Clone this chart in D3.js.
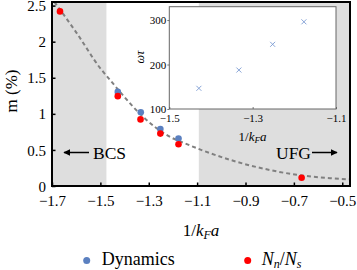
<!DOCTYPE html>
<html>
<head>
<meta charset="utf-8">
<script src="https://cdn.jsdelivr.net/npm/d3@7"></script>
<style>
  body { margin: 0; background: #fff; }
  svg { display: block; font-family: "Liberation Serif", serif; }
</style>
</head>
<body>
<div id="chart"></div>
<script>
// data
const shadeRanges = [[-1.7, -1.475], [-1.093, -0.468]];

const fitX = [-1.69, -1.6, -1.5, -1.46, -1.4, -1.33, -1.275, -1.206, -1.15, -1.075, -0.937, -0.8, -0.688, -0.55, -0.468];
const fitY = [2.55, 2.13, 1.63, 1.47, 1.23, 0.98, 0.82, 0.67, 0.59, 0.49, 0.336, 0.222, 0.155, 0.108, 0.092];

const ratioX = [-1.667, -1.428, -1.334, -1.252, -1.177, -0.668];
const ratioY = [2.42, 1.245, 0.923, 0.726, 0.578, 0.115];

const dynX = [-1.428, -1.333, -1.252, -1.177];
const dynY = [1.304, 1.023, 0.789, 0.657];

const insetX = [-1.429, -1.333, -1.252, -1.177];
const insetY = [146.5, 187.6, 245.4, 296];

const xTicks = [-1.7, -1.5, -1.3, -1.1, -0.9, -0.7, -0.5];
const yTicks = [0, 0.5, 1, 1.5, 2, 2.5];
const insetXTicks = [-1.5, -1.3, -1.1];
const insetYTicks = [100, 200, 300];

const blue = "#5b80c0";
const red = "#ff0000";

let W = 357, H = 270;
let svg = d3.select("#chart").append("svg").attr("width", W).attr("height", H);

// main scales
const x = d3.scaleLinear().domain([-1.7, -0.468]).range([52, 350]);
const y = d3.scaleLinear().domain([0, 2.55]).range([186, 2]);

// gray regions
svg.selectAll("rect.shade")
    .data(shadeRanges)
    .enter()
    .append("rect")
    .attr("class", "shade")
    .attr("x", d => x(d[0]))
    .attr("y", y(2.55))
    .attr("width", d => x(d[1]) - x(d[0]))
    .attr("height", y(0) - y(2.55))
    .attr("fill", "#dedede");

// dashed fit line
let fitData = fitX.map((v, i) => [v, fitY[i]]);
svg.append("path")
    .datum(fitData)
    .attr("d", d3.line().x(d => x(d[0])).y(d => y(d[1])).curve(d3.curveMonotoneX))
    .attr("fill", "none")
    .attr("stroke", "#808080")
    .attr("stroke-width", 2)
    .attr("stroke-dasharray", "4,3");

// points
svg.selectAll("circle.dyn")
    .data(dynX.map((v, i) => [v, dynY[i]]))
    .enter()
    .append("circle")
    .attr("cx", d => x(d[0]))
    .attr("cy", d => y(d[1]))
    .attr("r", 3.3)
    .attr("fill", blue);

svg.selectAll("circle.ratio")
    .data(ratioX.map((v, i) => [v, ratioY[i]]))
    .enter()
    .append("circle")
    .attr("cx", d => x(d[0]))
    .attr("cy", d => y(d[1]))
    .attr("r", 3.3)
    .attr("fill", red);

// axes
let xAxis = svg.append("g")
    .attr("transform", `translate(0, ${y(0)})`)
    .call(d3.axisBottom(x).tickValues(xTicks).tickSize(-3.5).tickPadding(9).tickFormat(d3.format(".1f")));
let yAxis = svg.append("g")
    .attr("transform", `translate(${x(-1.7)}, 0)`)
    .call(d3.axisLeft(y).tickValues(yTicks).tickSize(-3.5).tickPadding(6).tickFormat(d3.format("~g")));

for (let ax of [xAxis, yAxis]) {
    ax.select(".domain").remove();
    ax.selectAll(".tick line").attr("stroke", "#000").attr("stroke-width", 1.5);
    ax.selectAll(".tick text")
        .attr("font-family", "Liberation Serif")
        .attr("font-size", 15)
        .attr("fill", "#000");
}
yAxis.selectAll(".tick text").attr("dy", "0.34em");

// frame
svg.append("rect")
    .attr("x", x(-1.7)).attr("y", y(2.55))
    .attr("width", x(-0.468) - x(-1.7))
    .attr("height", y(0) - y(2.55))
    .attr("fill", "none")
    .attr("stroke", "#000")
    .attr("stroke-width", 2);

// labels
svg.append("text")
    .attr("transform", "translate(17, 91) rotate(-90)")
    .attr("text-anchor", "middle")
    .attr("font-size", 17)
    .text("m (%)");

let xl = svg.append("text")
    .attr("x", 201).attr("y", 236)
    .attr("text-anchor", "middle")
    .attr("font-size", 17);
xl.append("tspan").text("1/");
xl.append("tspan").attr("font-style", "italic").text("k");
xl.append("tspan").attr("font-style", "italic").attr("font-size", 12).attr("dy", 3).text("F");
xl.append("tspan").attr("font-style", "italic").attr("dy", -3).text("a");

// BCS / UFG arrows
svg.append("defs").append("marker")
    .attr("id", "head")
    .attr("viewBox", "0 0 10 10")
    .attr("refX", 9).attr("refY", 5)
    .attr("markerWidth", 7).attr("markerHeight", 7)
    .attr("markerUnits", "userSpaceOnUse")
    .attr("orient", "auto")
    .append("path")
    .attr("d", "M0,0 L10,5 L0,10 Z")
    .attr("fill", "#000");

svg.append("line")
    .attr("x1", 89).attr("y1", 152.5).attr("x2", 64).attr("y2", 152.5)
    .attr("stroke", "#000").attr("stroke-width", 1.5)
    .attr("marker-end", "url(#head)");
svg.append("text").attr("x", 93).attr("y", 158.5).attr("font-size", 17.5).text("BCS");

svg.append("line")
    .attr("x1", 312).attr("y1", 152.5).attr("x2", 337).attr("y2", 152.5)
    .attr("stroke", "#000").attr("stroke-width", 1.5)
    .attr("marker-end", "url(#head)");
svg.append("text").attr("x", 276).attr("y", 158.5).attr("font-size", 17.5).text("UFG");

// inset
const ix = d3.scaleLinear().domain([-1.5, -1.1]).range([169.3, 336]);
const iy = d3.scaleLinear().domain([100, 330]).range([109, 6.7]);

svg.append("rect")
    .attr("x", ix(-1.5)).attr("y", iy(330))
    .attr("width", ix(-1.1) - ix(-1.5))
    .attr("height", iy(100) - iy(330))
    .attr("fill", "#fff")
    .attr("stroke", "#666")
    .attr("stroke-width", 1);

svg.selectAll("path.x")
    .data(insetX.map((v, i) => [v, insetY[i]]))
    .enter()
    .append("path")
    .attr("d", "M-2.5,-2.5L2.5,2.5M-2.5,2.5L2.5,-2.5")
    .attr("transform", d => `translate(${ix(d[0])}, ${iy(d[1])})`)
    .attr("stroke", "#7c9bd2")
    .attr("stroke-width", 0.9)
    .attr("fill", "none");

let ixAxis = svg.append("g")
    .attr("transform", `translate(0, ${iy(100)})`)
    .call(d3.axisBottom(ix).tickValues(insetXTicks).tickSize(-2).tickPadding(5).tickFormat(d3.format(".1f")));
let iyAxis = svg.append("g")
    .attr("transform", `translate(${ix(-1.5)}, 0)`)
    .call(d3.axisLeft(iy).tickValues(insetYTicks).tickSize(2).tickPadding(1).tickFormat(d3.format("d")));

for (let ax of [ixAxis, iyAxis]) {
    ax.select(".domain").remove();
    ax.selectAll(".tick line").attr("stroke", "#555").attr("stroke-width", 0.8);
    ax.selectAll(".tick text")
        .attr("font-family", "Liberation Serif")
        .attr("font-size", 11)
        .attr("fill", "#000");
}

svg.append("text")
    .attr("transform", "translate(144, 57) rotate(-90)")
    .attr("text-anchor", "middle")
    .attr("font-size", 12)
    .attr("font-style", "italic")
    .text("ωτ");

let il = svg.append("text")
    .attr("x", 252.5).attr("y", 141)
    .attr("text-anchor", "middle")
    .attr("font-size", 13);
il.append("tspan").text("1/");
il.append("tspan").attr("font-style", "italic").text("k");
il.append("tspan").attr("font-style", "italic").attr("font-size", 9).attr("dy", 2).text("F");
il.append("tspan").attr("font-style", "italic").attr("dy", -2).text("a");

// legend
svg.append("circle").attr("cx", 86.7).attr("cy", 260.5).attr("r", 3.5).attr("fill", blue);
svg.append("text").attr("x", 101.7).attr("y", 265).attr("font-size", 18).text("Dynamics");

svg.append("circle").attr("cx", 247.7).attr("cy", 260.5).attr("r", 3.5).attr("fill", red);
let ll = svg.append("text").attr("x", 261.7).attr("y", 265).attr("font-size", 18).attr("font-style", "italic");
ll.append("tspan").text("N");
ll.append("tspan").attr("font-size", 12).attr("dy", 2.5).text("n");
ll.append("tspan").attr("dy", -2.5).attr("font-style", "normal").text("/");
ll.append("tspan").text("N");
ll.append("tspan").attr("font-size", 12).attr("dy", 2.5).text("s");
</script>
</body>
</html>
